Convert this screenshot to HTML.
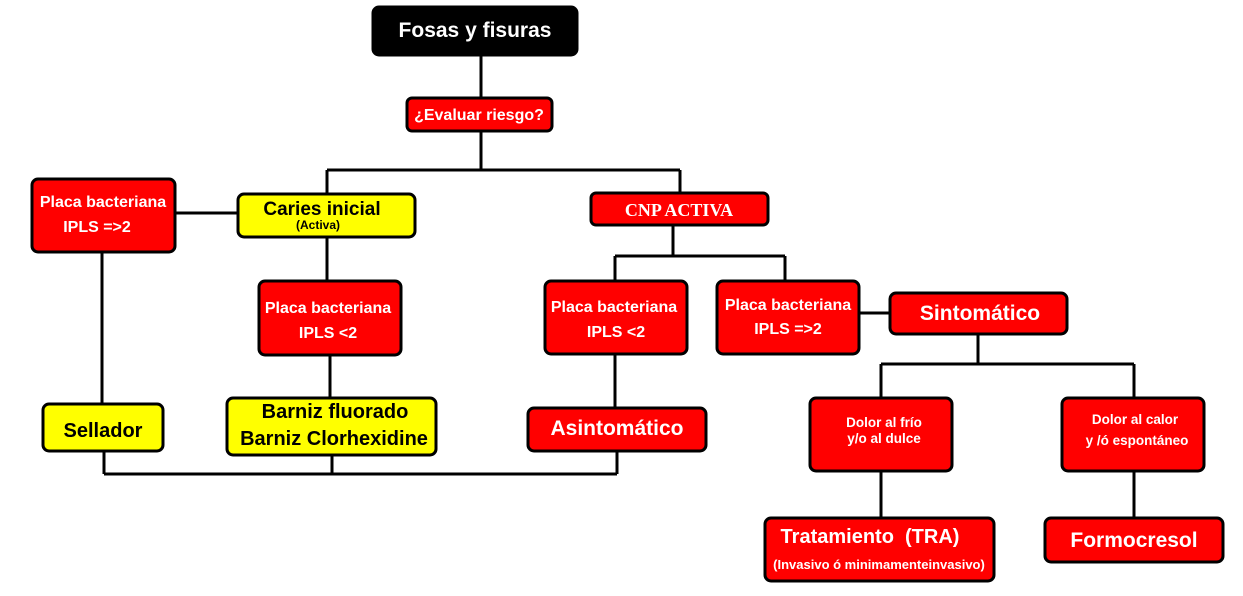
<!DOCTYPE html>
<html><head><meta charset="utf-8"><style>
body{margin:0;background:#fff;}
text{font-family:"Liberation Sans",Arial,sans-serif;font-weight:bold;}
</style></head><body>
<svg width="1243" height="591" xmlns="http://www.w3.org/2000/svg">
<g stroke="#000" stroke-width="3" fill="none">
<line x1="481" y1="56" x2="481" y2="97"/>
<line x1="481" y1="132" x2="481" y2="170"/>
<line x1="327" y1="170" x2="680" y2="170"/>
<line x1="327" y1="170" x2="327" y2="193"/>
<line x1="680" y1="170" x2="680" y2="192"/>
<line x1="176" y1="213" x2="237" y2="213"/>
<line x1="327" y1="238" x2="327" y2="280"/>
<line x1="330" y1="356" x2="330" y2="397"/>
<line x1="102" y1="253" x2="102" y2="403"/>
<line x1="673" y1="226" x2="673" y2="256"/>
<line x1="615" y1="256" x2="785" y2="256"/>
<line x1="615" y1="256" x2="615" y2="280"/>
<line x1="785" y1="256" x2="785" y2="280"/>
<line x1="615" y1="355" x2="615" y2="407"/>
<line x1="104" y1="474" x2="617" y2="474"/>
<line x1="104" y1="452" x2="104" y2="474"/>
<line x1="332" y1="456" x2="332" y2="474"/>
<line x1="617" y1="452" x2="617" y2="474"/>
<line x1="860" y1="313" x2="889" y2="313"/>
<line x1="978" y1="335" x2="978" y2="364"/>
<line x1="881" y1="364" x2="1134" y2="364"/>
<line x1="881" y1="364" x2="881" y2="397"/>
<line x1="1134" y1="364" x2="1134" y2="397"/>
<line x1="881" y1="472" x2="881" y2="517"/>
<line x1="1134" y1="472" x2="1134" y2="517"/>
</g>
<g stroke="#000" stroke-width="3">
<rect x="373" y="7" width="204" height="48" rx="6" fill="#000"/>
<rect x="407" y="98" width="145" height="33" rx="5" fill="#f00"/>
<rect x="32" y="179" width="143" height="73" rx="6" fill="#f00"/>
<rect x="238" y="194" width="177" height="43" rx="6" fill="#ff0"/>
<rect x="591" y="193" width="177" height="32" rx="5" fill="#f00"/>
<rect x="259" y="281" width="142" height="74" rx="6" fill="#f00"/>
<rect x="545" y="281" width="142" height="73" rx="6" fill="#f00"/>
<rect x="717" y="281" width="142" height="73" rx="6" fill="#f00"/>
<rect x="890" y="293" width="177" height="41" rx="6" fill="#f00"/>
<rect x="43" y="404" width="120" height="47" rx="6" fill="#ff0"/>
<rect x="227" y="398" width="209" height="57" rx="6" fill="#ff0"/>
<rect x="528" y="408" width="178" height="43" rx="6" fill="#f00"/>
<rect x="810" y="398" width="142" height="73" rx="6" fill="#f00"/>
<rect x="1062" y="398" width="142" height="73" rx="6" fill="#f00"/>
<rect x="765" y="518" width="229" height="63" rx="6" fill="#f00"/>
<rect x="1045" y="518" width="178" height="44" rx="6" fill="#f00"/>
</g>
<g text-anchor="middle" fill="#fff">
<text x="475" y="37" font-size="21">Fosas y fisuras</text>
<text x="479" y="120" font-size="16">¿Evaluar riesgo?</text>
<text x="103" y="207" font-size="16">Placa bacteriana</text>
<text x="97" y="232" font-size="16">IPLS =&gt;2</text>
<text x="679" y="216" font-size="18" style="font-family:'Liberation Serif',serif">CNP ACTIVA</text>
<text x="328" y="313" font-size="16">Placa bacteriana</text>
<text x="328" y="338" font-size="16">IPLS  &lt;2</text>
<text x="614" y="312" font-size="16">Placa bacteriana</text>
<text x="616" y="337" font-size="16">IPLS &lt;2</text>
<text x="788" y="310" font-size="16">Placa bacteriana</text>
<text x="788" y="334" font-size="16">IPLS =&gt;2</text>
<text x="980" y="320" font-size="21">Sintomático</text>
<text x="617" y="435" font-size="21">Asintomático</text>
<text x="884" y="427" font-size="13.5">Dolor al frío</text>
<text x="884" y="443" font-size="13.5">y/o al dulce</text>
<text x="1135" y="424" font-size="13.5">Dolor al calor</text>
<text x="1137" y="445" font-size="13.5">y /ó espontáneo</text>
<text x="870" y="543" font-size="20">Tratamiento&#160;&#160;(TRA)</text>
<text x="879" y="569" font-size="13">(Invasivo ó minimamenteinvasivo)</text>
<text x="1134" y="547" font-size="21">Formocresol</text>
</g>
<g text-anchor="middle" fill="#000">
<text x="322" y="215" font-size="19">Caries inicial</text>
<text x="318" y="229" font-size="12">(Activa)</text>
<text x="103" y="437" font-size="20">Sellador</text>
<text x="335" y="418" font-size="20">Barniz fluorado</text>
<text x="334" y="445" font-size="20">Barniz Clorhexidine</text>
</g>
</svg>
</body></html>
